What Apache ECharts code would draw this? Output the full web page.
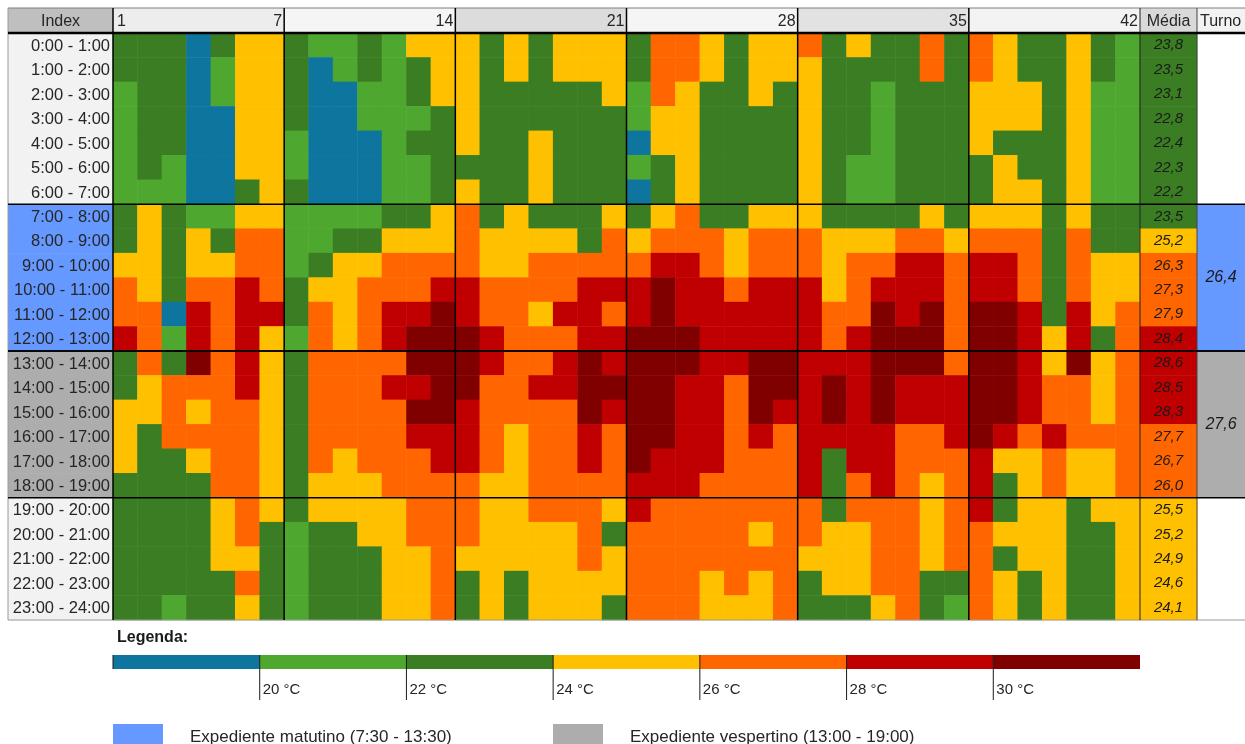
<!DOCTYPE html>
<html>
<head>
<meta charset="utf-8">
<script src="https://cdn.jsdelivr.net/npm/echarts@6/dist/echarts.min.js"></script>
<style>
  html, body { margin: 0; padding: 0; background: #fff; }
  #chart { width: 1245px; height: 744px; }
</style>
</head>
<body>
<div id="chart"></div>
<script>
// linhas (horas) e colunas (dias)
const hours = ['0:00 - 1:00', '1:00 - 2:00', '2:00 - 3:00', '3:00 - 4:00', '4:00 - 5:00', '5:00 - 6:00',
  '6:00 - 7:00', '7:00 - 8:00', '8:00 - 9:00', '9:00 - 10:00', '10:00 - 11:00', '11:00 - 12:00',
  '12:00 - 13:00', '13:00 - 14:00', '14:00 - 15:00', '15:00 - 16:00', '16:00 - 17:00', '17:00 - 18:00',
  '18:00 - 19:00', '19:00 - 20:00', '20:00 - 21:00', '21:00 - 22:00', '22:00 - 23:00', '23:00 - 24:00'];
const days = ['1', '2', '3', '4', '5', '6', '7', '8', '9', '10', '11', '12', '13', '14', '15', '16', '17', '18', '19', '20', '21',
  '22', '23', '24', '25', '26', '27', '28', '29', '30', '31', '32', '33', '34', '35', '36', '37', '38', '39', '40', '41', '42'];
const headerMarks = [1, 7, 14, 21, 28, 35, 42];

// temperatura estimada por célula (°C), uma linha por hora
const temps = [
  [23,23,23,19,23,25,25, 23,21,21,23,21,25,25, 25,23,25,23,25,25,25, 23,27,27,25,23,25,25, 27,23,25,23,23,27,23, 27,25,23,23,25,23,21],
  [23,23,23,19,21,25,25, 23,19,21,23,21,23,25, 25,23,25,23,25,25,25, 23,27,27,25,23,25,25, 25,23,23,23,23,27,23, 27,25,23,23,25,23,21],
  [21,23,23,19,21,25,25, 23,19,19,21,21,23,25, 25,23,23,23,23,23,25, 21,27,25,23,23,25,23, 25,23,23,21,23,23,23, 25,25,25,23,25,21,21],
  [21,23,23,19,19,25,25, 23,19,19,21,21,21,23, 25,23,23,23,23,23,23, 21,25,25,23,23,23,23, 25,23,23,21,23,23,23, 25,25,25,23,25,21,21],
  [21,23,23,19,19,25,25, 21,19,19,19,21,23,23, 25,23,23,25,23,23,23, 19,25,25,23,23,23,23, 25,23,23,21,23,23,23, 25,23,23,23,25,21,21],
  [21,23,21,19,19,25,25, 21,19,19,19,21,21,23, 23,23,23,25,23,23,23, 21,23,25,23,23,23,23, 25,23,21,21,23,23,23, 23,25,23,23,25,21,21],
  [21,21,21,19,19,23,25, 23,19,19,19,21,21,23, 25,23,23,25,23,23,23, 19,23,25,23,23,23,23, 25,23,21,21,23,23,23, 23,25,25,23,25,21,21],
  [23,25,23,21,21,25,25, 21,21,21,21,23,23,25, 27,23,25,23,23,23,25, 23,25,27,23,23,25,25, 25,23,23,23,23,25,23, 25,25,25,23,25,23,23],
  [23,25,23,25,23,27,27, 21,21,23,23,25,25,25, 27,25,25,25,25,23,27, 25,27,27,27,25,27,27, 27,25,25,25,27,27,25, 27,27,27,23,27,23,23],
  [25,25,23,25,25,27,27, 21,23,25,25,27,27,27, 27,25,25,27,27,27,27, 27,29,29,27,25,27,27, 27,25,27,27,29,29,27, 29,29,27,23,27,25,25],
  [27,25,23,27,27,29,27, 23,25,25,27,27,27,29, 29,27,27,27,27,29,29, 29,31,29,29,27,29,29, 29,25,27,29,29,29,27, 29,29,27,23,27,25,25],
  [27,27,19,29,27,29,29, 23,27,25,27,29,29,31, 29,27,27,25,29,29,27, 29,31,29,29,29,29,29, 29,27,27,31,29,31,27, 31,31,29,23,29,25,27],
  [29,27,21,29,27,29,25, 21,27,25,27,29,31,31, 31,29,27,27,27,29,29, 31,31,31,29,29,29,29, 29,27,29,31,31,31,27, 31,31,29,25,29,23,27],
  [23,27,23,31,27,29,25, 23,27,27,27,27,31,31, 31,29,27,27,29,31,29, 31,31,31,29,29,31,31, 29,29,29,31,31,31,27, 31,31,29,25,31,25,27],
  [23,25,27,27,27,29,25, 23,27,27,27,29,29,31, 31,27,27,29,29,31,31, 31,31,29,29,27,31,31, 29,31,29,31,29,29,29, 31,31,29,27,27,25,27],
  [25,25,27,25,27,27,25, 23,27,27,27,27,31,31, 29,27,27,27,27,31,29, 31,31,29,29,27,31,29, 29,31,29,31,29,29,29, 31,31,29,27,27,25,27],
  [25,23,27,27,27,27,25, 23,27,27,27,27,29,29, 29,27,25,27,27,29,27, 31,31,29,29,27,29,27, 29,29,29,29,27,27,29, 31,29,27,29,27,27,27],
  [25,23,23,25,27,27,25, 23,27,25,27,27,27,29, 29,27,25,27,27,29,27, 31,29,29,29,27,27,27, 29,23,29,29,27,27,27, 29,25,25,27,25,25,27],
  [23,23,23,23,27,27,25, 23,25,25,25,27,27,27, 27,25,25,27,27,27,27, 29,29,29,27,27,27,27, 29,23,27,29,27,25,27, 29,23,25,27,25,25,27],
  [23,23,23,23,25,27,25, 23,25,25,25,25,27,27, 27,25,25,27,27,27,25, 29,27,27,27,27,27,27, 27,23,27,27,27,25,27, 29,23,25,25,23,25,25],
  [23,23,23,23,25,27,23, 21,23,23,25,25,27,27, 27,25,25,25,25,27,23, 27,27,27,27,27,25,27, 27,25,25,27,27,25,27, 27,25,25,25,23,23,25],
  [23,23,23,23,25,25,23, 21,23,23,23,25,25,27, 25,25,25,25,25,27,25, 27,27,27,27,27,27,27, 25,25,25,27,27,25,27, 27,23,25,25,23,23,25],
  [23,23,23,23,23,27,23, 21,23,23,23,25,25,27, 23,25,23,25,25,25,25, 27,27,27,25,27,25,27, 23,25,25,27,27,23,23, 27,25,23,25,23,23,25],
  [23,23,21,23,23,25,23, 21,23,23,23,25,25,27, 23,25,23,25,25,25,23, 27,27,27,25,25,25,27, 23,23,23,25,27,23,21, 27,25,23,25,23,23,25]
];

// média por hora e média por turno
const media = [23.8, 23.5, 23.1, 22.8, 22.4, 22.3, 22.2, 23.5, 25.2, 26.3, 27.3, 27.9,
  28.4, 28.6, 28.5, 28.3, 27.7, 26.7, 26.0, 25.5, 25.2, 24.9, 24.6, 24.1];
const turnoNames = ['Expediente matutino (7:30 - 13:30)', 'Expediente vespertino (13:00 - 19:00)'];
const turnoRows = [[7, 12], [13, 18]];
const turnoValues = [26.4, 27.6];
const turnoColors = ['#6699FF', '#ADADAD'];

// faixas da legenda
const tempBreaks = [20, 22, 24, 26, 28, 30];
const legendRange = [18, 32];
const tempColors = ['#0E769E', '#4EA72E', '#3A7D22', '#FFC000', '#FF6600', '#C00000', '#800000'];

const FONT = '"Liberation Sans", Arial, sans-serif';
const fmt = v => v.toFixed(1).replace('.', ',');

const heatData = [];
temps.forEach((row, r) => row.forEach((v, c) => heatData.push([c, r, v])));
const mediaData = media.map((v, r) => [0, r, v]);

const pieces = tempColors.map((color, i) => {
  const p = {color: color};
  if (i > 0) p.gte = tempBreaks[i - 1];
  if (i < tempBreaks.length) p.lt = tempBreaks[i];
  return p;
});
const legendData = tempColors.map((c, i) => [
  i === 0 ? legendRange[0] : tempBreaks[i - 1],
  i === tempBreaks.length ? legendRange[1] : tempBreaks[i],
  i
]);

function shiftOf(r) {
  return turnoRows.findIndex(t => r >= t[0] && r <= t[1]);
}

const chart = echarts.init(document.getElementById('chart'));

const hiddenCat = (gi, data, inverse) => ({
  gridIndex: gi, type: 'category', data: data, inverse: !!inverse, show: false
});

const option = {
  animation: false,
  textStyle: {fontFamily: FONT},
  title: {
    text: 'Legenda:', left: 117, top: 630, padding: 0,
    textStyle: {fontSize: 16, fontWeight: 'bold', color: '#1a1a1a', fontFamily: FONT}
  },
  legend: turnoNames.map((n, i) => ({
    data: [n], left: i === 0 ? 113 : 553, top: 724, padding: 0,
    icon: 'rect', itemWidth: 50, itemHeight: 26, selectedMode: false,
    textStyle: {fontSize: 17, color: '#262626', padding: [0, 0, 0, 22], fontFamily: FONT}
  })),
  visualMap: {
    type: 'piecewise', show: false, dimension: 2, seriesIndex: [0, 1], pieces: pieces
  },
  grid: [
    {left: 113, top: 33, width: 1027, height: 587},
    {left: 1140, top: 33, width: 57, height: 587},
    {left: 1197, top: 33, width: 48, height: 587},
    {left: 8, top: 33, width: 105, height: 587},
    {left: 113, top: 655, width: 1027, height: 14}
  ],
  xAxis: [
    hiddenCat(0, days),
    hiddenCat(1, ['Média']),
    hiddenCat(2, ['Turno']),
    hiddenCat(3, ['Index']),
    {gridIndex: 4, type: 'value', min: legendRange[0], max: legendRange[1], show: false}
  ],
  yAxis: [
    hiddenCat(0, hours, true),
    hiddenCat(1, hours, true),
    hiddenCat(2, hours, true),
    hiddenCat(3, hours, true),
    {gridIndex: 4, type: 'value', min: 0, max: 1, show: false}
  ],
  series: [
    {
      type: 'heatmap', xAxisIndex: 0, yAxisIndex: 0, data: heatData,
      itemStyle: {borderWidth: 0}, emphasis: {disabled: true}
    },
    {
      type: 'heatmap', xAxisIndex: 1, yAxisIndex: 1, data: mediaData,
      itemStyle: {borderWidth: 0}, emphasis: {disabled: true},
      label: {
        show: true, formatter: p => fmt(p.value[2]),
        fontStyle: 'italic', fontSize: 15, color: '#1a1a1a', fontFamily: FONT
      }
    },
    {
      type: 'custom', xAxisIndex: 3, yAxisIndex: 3, silent: true,
      data: hours.map((h, r) => [0, r]),
      renderItem: function (params, api) {
        const r = api.value(1);
        const c = api.coord([0, r]);
        const h = api.size([0, 1])[1];
        const cs = params.coordSys;
        const k = shiftOf(r);
        return {
          type: 'group', children: [
            {type: 'rect', shape: {x: cs.x, y: c[1] - h / 2, width: cs.width, height: h + 0.6},
              style: {fill: k < 0 ? '#F2F2F2' : turnoColors[k]}},
            {type: 'text', x: cs.x + cs.width - 3, y: c[1] + 1,
              style: {text: hours[r], align: 'right', verticalAlign: 'middle',
                font: '16.5px ' + FONT, fill: '#262626'}}
          ]
        };
      }
    },
    ...turnoNames.map((n, i) => ({
      name: n, type: 'custom', xAxisIndex: 2, yAxisIndex: 2, silent: true,
      itemStyle: {color: turnoColors[i]},
      data: [[0, turnoRows[i][0], turnoRows[i][1], turnoValues[i]]],
      encode: {x: 0, y: [1, 2]},
      renderItem: function (params, api) {
        const a = api.coord([0, api.value(1)]);
        const b = api.coord([0, api.value(2)]);
        const h = api.size([0, 1])[1];
        const cs = params.coordSys;
        const y0 = a[1] - h / 2, y1 = b[1] + h / 2;
        return {
          type: 'group', children: [
            {type: 'rect', shape: {x: cs.x, y: y0, width: cs.width, height: y1 - y0},
              style: {fill: api.visual('color')}},
            {type: 'text', x: cs.x + cs.width / 2, y: (y0 + y1) / 2,
              style: {text: fmt(api.value(3)), align: 'center', verticalAlign: 'middle',
                font: 'italic 16px ' + FONT, fill: '#1a1a1a'}}
          ]
        };
      }
    })),
    {
      type: 'custom', xAxisIndex: 4, yAxisIndex: 4, silent: true,
      data: legendData,
      renderItem: function (params, api) {
        const lo = api.value(0), hi = api.value(1), i = api.value(2);
        const p0 = api.coord([lo, 1]), p1 = api.coord([hi, 0]);
        const children = [
          {type: 'rect', shape: {x: p0[0], y: p0[1], width: p1[0] - p0[0], height: p1[1] - p0[1]},
            style: {fill: tempColors[i]}}
        ];
        if (i > 0) {
          children.push(
            {type: 'line', shape: {x1: p0[0], y1: p0[1], x2: p0[0], y2: p1[1] + 31},
              style: {stroke: '#1a1a1a', lineWidth: 1}},
            {type: 'text', x: p0[0] + 3, y: p1[1] + 21,
              style: {text: lo + ' °C', align: 'left', verticalAlign: 'middle',
                font: '15px ' + FONT, fill: '#262626'}}
          );
        } else {
          children.push({type: 'line', shape: {x1: p0[0], y1: p0[1], x2: p0[0], y2: p1[1]},
            style: {stroke: '#1a1a1a', lineWidth: 1}});
        }
        return {type: 'group', children: children};
      }
    }
  ]
};

chart.setOption(option);

// moldura da tabela: cabeçalho e linhas de separação
function cell(gi, col, row) {
  return chart.convertToPixel({gridIndex: gi}, [col, row]);
}
const p00 = cell(0, 0, 0), p11 = cell(0, 1, 1);
const cw = p11[0] - p00[0], ch = p11[1] - p00[1];
const gx0 = p00[0] - cw / 2, gy0 = p00[1] - ch / 2;
const gx1 = gx0 + cw * days.length, gy1 = gy0 + ch * hours.length;
const mx1 = gx1 + (cell(1, 0, 0)[0] - gx1) * 2;
const X0 = 8, X1 = 1245, HY = 8;

const g = [];
const line = (x1, y1, x2, y2, w, c) => g.push({
  type: 'line', z: 100, silent: true,
  shape: {x1: x1, y1: y1, x2: x2, y2: y2}, style: {stroke: c || '#000', lineWidth: w || 1}
});
const hText = (x, t, align) => g.push({
  type: 'text', z: 101, silent: true, x: x, y: (HY + gy0) / 2 + 1,
  style: {text: t, align: align, verticalAlign: 'middle', font: '16px ' + FONT, fill: '#262626'}
});

// cabeçalho
g.push({type: 'rect', z: 99, silent: true, shape: {x: X0, y: HY, width: gx0 - X0, height: gy0 - HY},
  style: {fill: '#BFBFBF'}});
hText((X0 + gx0) / 2, 'Index', 'center');
const headFills = ['#EDEDED', '#F5F5F5', '#DCDCDC', '#F5F5F5', '#E2E2E2', '#F3F3F3'];
for (let k = 0; k < headerMarks.length - 1; k++) {
  const xa = k === 0 ? gx0 : gx0 + cw * headerMarks[k];
  const xb = gx0 + cw * headerMarks[k + 1];
  g.push({type: 'rect', z: 99, silent: true, shape: {x: xa, y: HY, width: xb - xa, height: gy0 - HY},
    style: {fill: headFills[k]}});
  hText(xb - 2, String(headerMarks[k + 1]), 'right');
}
hText(gx0 + 4, String(headerMarks[0]), 'left');
g.push({type: 'rect', z: 99, silent: true, shape: {x: gx1, y: HY, width: mx1 - gx1, height: gy0 - HY},
  style: {fill: '#D9D9D9'}});
hText((gx1 + mx1) / 2, 'Média', 'center');
g.push({type: 'rect', z: 99, silent: true, shape: {x: mx1, y: HY, width: X1 - mx1, height: gy0 - HY},
  style: {fill: '#F2F2F2'}});
hText(mx1 + 3, 'Turno', 'left');

// bordas
line(X0, HY, X1, HY, 1, '#7F7F7F');
line(X0, HY, X0, gy1, 1, '#9A9A9A');
line(X0, gy1, X1, gy1, 1, '#9A9A9A');
line(gx0, HY, gx0, gy1, 1.5);
for (let k = 1; k < headerMarks.length - 1; k++) {
  const x = gx0 + cw * headerMarks[k];
  line(x, HY, x, gy1, 1.5);
}
line(gx1, HY, gx1, gy1, 1, '#222');
line(mx1, HY, mx1, gy1, 1, '#444');
turnoRows.forEach(t => {
  line(X0, gy0 + ch * t[0], X1, gy0 + ch * t[0], 1.5);
  line(X0, gy0 + ch * (t[1] + 1), X1, gy0 + ch * (t[1] + 1), 1.5);
});
line(X0, gy0, X1, gy0, 2.5);

chart.setOption({graphic: {elements: g}});
</script>
</body>
</html>
